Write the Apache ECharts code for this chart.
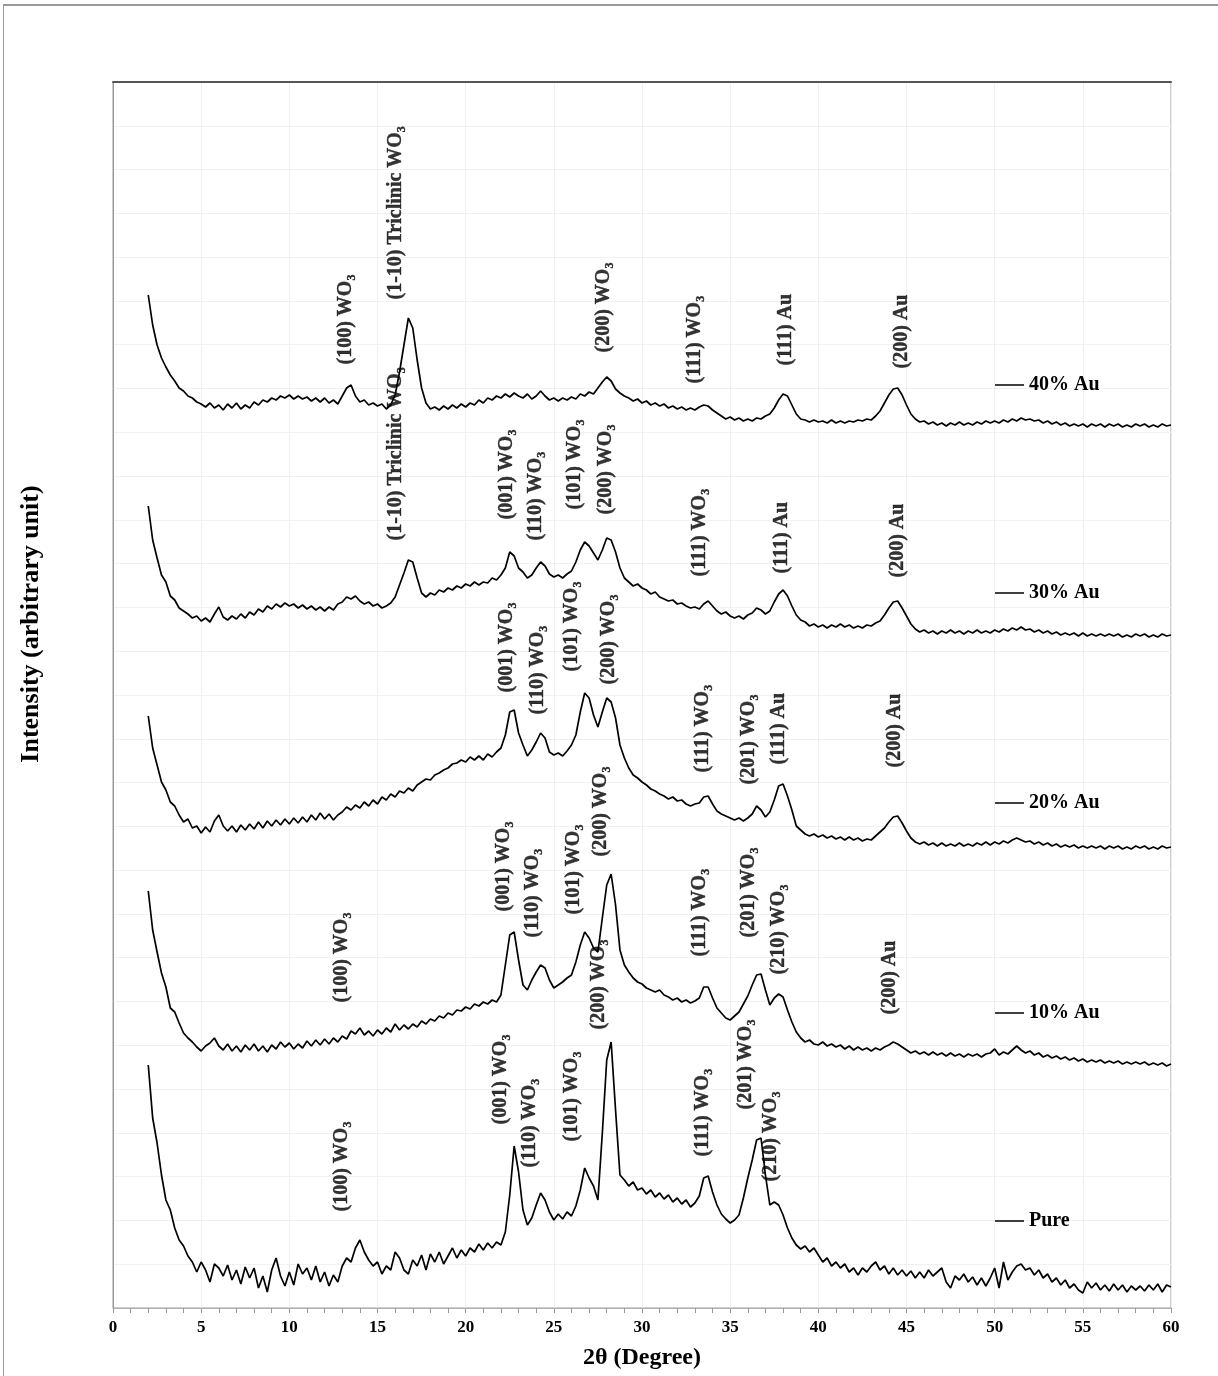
<!DOCTYPE html>
<html><head><meta charset="utf-8">
<script src="https://cdn.jsdelivr.net/npm/echarts@6/dist/echarts.min.js"></script>
<style>
html,body{margin:0;padding:0;background:#fff;overflow:hidden}
#c{width:1218px;height:1376px;position:absolute;left:0;top:0}
#frame{position:absolute;left:3px;top:4px;width:1400px;height:1500px;border-top:2px solid #9a9a9a;border-left:1px solid #9a9a9a;pointer-events:none}
</style>
</head><body><div id="c"></div><div id="frame"></div>
<script>
const twoTheta = [
2,2.25,2.5,2.75, 3,3.25,3.5,3.75, 4,4.25,4.5,4.75, 5,5.25,5.5,5.75, 6,6.25,6.5,6.75,
7,7.25,7.5,7.75, 8,8.25,8.5,8.75, 9,9.25,9.5,9.75, 10,10.25,10.5,10.75, 11,11.25,11.5,11.75,
12,12.25,12.5,12.75, 13,13.25,13.5,13.75, 14,14.25,14.5,14.75, 15,15.25,15.5,15.75, 16,16.25,16.5,16.75,
17,17.25,17.5,17.75, 18,18.25,18.5,18.75, 19,19.25,19.5,19.75, 20,20.25,20.5,20.75, 21,21.25,21.5,21.75,
22,22.25,22.5,22.75, 23,23.25,23.5,23.75, 24,24.25,24.5,24.75, 25,25.25,25.5,25.75, 26,26.25,26.5,26.75,
27,27.25,27.5,27.75, 28,28.25,28.5,28.75, 29,29.25,29.5,29.75, 30,30.25,30.5,30.75, 31,31.25,31.5,31.75,
32,32.25,32.5,32.75, 33,33.25,33.5,33.75, 34,34.25,34.5,34.75, 35,35.25,35.5,35.75, 36,36.25,36.5,36.75,
37,37.25,37.5,37.75, 38,38.25,38.5,38.75, 39,39.25,39.5,39.75, 40,40.25,40.5,40.75, 41,41.25,41.5,41.75,
42,42.25,42.5,42.75, 43,43.25,43.5,43.75, 44,44.25,44.5,44.75, 45,45.25,45.5,45.75, 46,46.25,46.5,46.75,
47,47.25,47.5,47.75, 48,48.25,48.5,48.75, 49,49.25,49.5,49.75, 50,50.25,50.5,50.75, 51,51.25,51.5,51.75,
52,52.25,52.5,52.75, 53,53.25,53.5,53.75, 54,54.25,54.5,54.75, 55,55.25,55.5,55.75, 56,56.25,56.5,56.75,
57,57.25,57.5,57.75, 58,58.25,58.5,58.75, 59,59.25,59.5,59.75, 60];

const sampleNames = ['40% Au', '30% Au', '20% Au', '10% Au', 'Pure'];

const int40 = [
1013,983,963,950, 941,933,927,920, 917,912,910,906, 904,901,905,900, 903,898,904,900,
905,899,903,900, 906,903,908,906, 910,908,912,910, 913,909,912,909, 911,907,910,906,
910,905,908,904, 912,920,923,912, 906,908,903,905, 902,904,899,903, 913,936,963,990,
980,948,920,905, 899,901,898,902, 899,903,900,904, 901,905,903,908, 905,910,908,912,
910,914,911,915, 912,910,914,909, 912,917,912,908, 910,907,910,908, 911,909,914,912,
916,914,920,926, 931,927,919,915, 912,910,907,909, 905,907,903,905, 902,904,900,902,
899,901,898,900, 898,901,903,902, 898,895,892,889, 891,888,890,887, 889,887,890,889,
892,894,900,908, 914,912,903,894, 889,888,886,888, 886,887,885,888, 885,887,885,887,
886,888,887,889, 888,892,897,905, 913,919,920,913, 903,894,889,886, 887,884,886,883,
885,882,885,883, 886,883,885,883, 886,884,887,885, 887,885,888,886, 889,887,890,888,
889,887,888,885, 887,884,886,883, 885,882,884,882, 884,881,884,882, 884,881,884,882,
884,881,883,881, 884,882,884,881, 883,881,884,882, 883];

const int30 = [
802,768,750,733, 726,712,708,700, 697,694,690,692, 687,690,686,694, 701,691,688,692,
689,694,690,696, 693,699,696,702, 699,704,701,705, 702,704,700,703, 699,702,698,701,
697,701,698,704, 706,711,709,712, 707,704,706,702, 704,700,702,705, 711,723,735,748,
746,730,715,711, 715,713,718,716, 720,718,722,720, 724,722,726,723, 726,725,730,728,
733,740,756,752, 740,736,730,733, 740,746,742,734, 731,733,730,734, 737,746,758,766,
762,755,748,758, 770,768,756,740, 730,726,722,724, 720,718,714,716, 711,709,707,708,
704,705,702,700, 701,699,704,707, 702,697,694,696, 692,690,692,689, 693,695,700,698,
694,697,706,714, 718,712,702,693, 688,686,682,684, 681,683,680,683, 681,684,681,683,
680,682,680,683, 682,685,687,693, 700,706,707,700, 692,684,679,676, 678,675,677,674,
677,675,678,675, 677,674,677,675, 678,675,677,675, 678,676,679,677, 680,678,681,678,
679,676,678,675, 677,674,676,673, 675,673,675,672, 675,672,674,672, 674,672,674,672,
674,671,673,671, 674,672,674,671, 673,671,674,672, 673];

const int20 = [
592,560,543,526, 518,506,502,493, 486,489,480,482, 475,481,476,487, 493,482,477,482,
476,483,478,484, 479,486,480,487, 482,488,483,489, 484,490,485,491, 486,493,488,495,
489,494,488,493, 496,501,498,503, 500,506,502,508, 504,511,508,514, 511,517,515,520,
517,523,526,529, 528,533,535,538, 540,544,545,548, 546,551,548,552, 548,554,551,556,
560,573,596,598, 575,563,552,558, 566,575,570,556, 553,555,552,557, 563,573,596,615,
610,593,581,596, 610,606,590,563, 550,540,533,530, 526,523,519,517, 514,512,509,511,
507,508,504,502, 504,505,511,512, 504,497,494,492, 490,488,490,487, 490,494,502,498,
491,496,508,522, 524,512,498,482, 478,474,472,474, 471,473,470,472, 469,471,468,471,
468,470,467,469, 468,472,476,480, 486,491,492,485, 477,470,466,464, 466,463,465,462,
465,462,464,462, 465,462,464,462, 465,463,466,463, 466,464,467,465, 468,470,468,466,
467,464,466,463, 465,462,464,461, 463,461,463,460, 462,460,462,460, 462,459,462,460,
462,459,461,459, 462,460,462,459, 461,459,462,460, 461];

const int10 = [
417,378,356,335, 321,300,296,285, 275,270,266,261, 257,262,265,270, 262,258,264,257,
262,256,263,258, 264,257,262,256, 263,259,266,261, 265,259,264,260, 267,262,268,263,
269,264,270,266, 272,269,277,274, 280,273,277,272, 278,274,280,276, 284,278,283,279,
284,281,287,284, 289,287,292,290, 295,293,298,297, 301,299,304,302, 306,304,308,306,
313,343,373,376, 348,323,318,328, 336,343,340,328, 320,323,326,330, 333,346,363,376,
370,360,356,390, 423,434,403,358, 343,336,330,326, 324,320,318,316, 318,313,311,308,
310,306,308,305, 307,310,321,321, 310,300,295,290, 288,292,296,304, 312,323,333,334,
318,303,310,314, 311,298,286,276, 270,266,268,264, 263,266,262,264, 261,263,259,262,
258,261,258,260, 257,260,258,261, 263,266,264,261, 258,255,257,254, 256,253,256,253,
255,252,255,252, 254,251,254,252, 254,251,254,255, 259,253,256,254, 258,262,258,255,
257,253,255,251, 253,250,252,249, 251,248,250,247, 249,246,248,246, 248,245,247,245,
247,244,246,244, 246,244,246,243, 245,243,245,242, 244];

const intPure = [
243,190,165,133, 108,98,80,68, 62,52,46,36, 46,38,26,44, 40,32,43,28,
38,24,41,30, 40,20,32,16, 38,50,32,22, 36,23,44,34, 40,28,42,26,
36,22,33,26, 42,50,46,60, 68,56,48,42, 46,34,42,38, 56,50,38,34,
48,42,53,38, 54,46,56,44, 52,60,50,58, 52,60,56,64, 58,65,60,66,
63,76,113,162, 136,98,83,90, 103,115,108,96, 88,94,89,96, 92,102,118,140,
130,122,108,175, 248,266,198,133, 128,122,126,118, 120,114,118,111, 115,109,113,106,
110,104,108,101, 105,112,130,132, 116,103,94,89, 85,88,93,110, 130,148,168,170,
133,103,106,103, 93,80,70,63, 59,62,56,60, 53,46,50,42, 46,40,44,36,
40,33,40,36, 42,46,38,42, 34,40,33,38, 32,37,30,36, 30,38,32,36,
40,26,20,32, 28,34,26,31, 23,30,22,30, 40,20,46,28, 36,42,44,38,
40,33,38,30, 34,26,30,23, 28,20,24,18, 15,26,20,25, 18,23,17,24,
18,23,16,22, 18,22,17,23, 18,24,16,23, 21];

// peak annotations: [label, 2θ of label, intensity where label text starts]
const peaks40 = [
  ['(100) WO₃', 13.25, 943], ['(1-10) Triclinic WO₃', 16.09, 1008], ['(200) WO₃', 27.89, 955],
  ['(111) WO₃', 33.05, 924], ['(111) Au', 38.21, 942], ['(200) Au', 44.74, 939]];
const peaks30 = [
  ['(1-10) Triclinic WO₃', 16.09, 767], ['(001) WO₃', 22.38, 788], ['(110) WO₃', 24.03, 767],
  ['(101) WO₃', 26.24, 798], ['(200) WO₃', 28.0, 793], ['(111) WO₃', 33.28, 731],
  ['(111) Au', 37.93, 734], ['(200) Au', 44.51, 730]];
const peaks20 = [
  ['(001) WO₃', 22.38, 615], ['(110) WO₃', 24.14, 593], ['(101) WO₃', 26.07, 636],
  ['(200) WO₃', 28.17, 623], ['(111) WO₃', 33.45, 535], ['(201) WO₃', 36.11, 523],
  ['(111) Au', 37.81, 543], ['(200) Au', 44.34, 540]];
const peaks10 = [
  ['(100) WO₃', 13.02, 305], ['(001) WO₃', 22.21, 396], ['(110) WO₃', 23.86, 370],
  ['(101) WO₃', 26.18, 393], ['(200) WO₃', 27.72, 451], ['(111) WO₃', 33.28, 351],
  ['(201) WO₃', 36.11, 370], ['(210) WO₃', 37.81, 333], ['(200) Au', 44.06, 293]];
const peaksPure = [
  ['(100) WO₃', 13.02, 96], ['(001) WO₃', 22.04, 183], ['(110) WO₃', 23.69, 140],
  ['(101) WO₃', 26.07, 166], ['(200) WO₃', 27.60, 278], ['(111) WO₃', 33.45, 151],
  ['(201) WO₃', 35.89, 198], ['(210) WO₃', 37.36, 126]];

const FONT = "'Times New Roman','Liberation Serif','DejaVu Serif',serif";
const seriesValues = [int40, int30, int20, int10, intPure];
const allPeaks = [].concat(peaks40, peaks30, peaks20, peaks10, peaksPure);
const legendCenterY = [385, 593, 803, 1013, 1221];

const chart = echarts.init(document.getElementById('c'), null, {renderer: 'canvas'});

const lineSeries = sampleNames.map((n, i) => ({
  name: n, type: 'line',
  data: twoTheta.map((x, j) => [x, seriesValues[i][j]]),
  symbol: 'none', showSymbol: false, smooth: false,
  lineStyle: {color: '#000', width: 1.7},
  itemStyle: {color: '#000'},
  silent: true, animation: false, z: 2
}));

const annotationSeries = {
  name: 'annotations', type: 'scatter',
  data: allPeaks.map(p => ({name: p[0], value: [p[1], p[2]]})),
  symbolSize: 1, itemStyle: {color: 'rgba(0,0,0,0)'},
  silent: true, animation: false, z: 3,
  label: {
    show: true, position: [0, 0], rotate: 90, align: 'left', verticalAlign: 'middle',
    formatter: '{b}', fontFamily: FONT, fontWeight: 'bold', fontSize: 20, color: '#000',
    textBorderColor: '#000', textBorderWidth: 0.4
  },
  labelLayout: {hideOverlap: false}
};

const option = {
  backgroundColor: '#fff',
  animation: false,
  grid: {left: 113, right: 47, top: 82, bottom: 68, show: true, borderColor: '#999', borderWidth: 1, backgroundColor: 'transparent'},
  legend: sampleNames.map((n, i) => ({
    data: [n], left: 995, top: legendCenterY[i] - 10, padding: 0,
    icon: 'rect', itemWidth: 29, itemHeight: 1.5, itemGap: 0, selectedMode: false,
    textStyle: {fontFamily: FONT, fontWeight: 'bold', fontSize: 20, color: '#000', lineHeight: 20}
  })),
  xAxis: [{
    type: 'value', min: 0, max: 60, interval: 5, position: 'bottom',
    name: '2θ (Degree)', nameLocation: 'middle', nameGap: 38,
    nameTextStyle: {fontFamily: FONT, fontWeight: 'bold', fontSize: 24, color: '#000'},
    axisLine: {show: true, onZero: false, lineStyle: {color: '#b0b0b0', width: 1}},
    axisTick: {show: true, length: 5, lineStyle: {color: '#999'}},
    minorTick: {show: true, splitNumber: 5, length: 5, lineStyle: {color: '#999'}},
    axisLabel: {fontFamily: FONT, fontWeight: 'bold', fontSize: 17, color: '#000', margin: 11},
    splitLine: {show: true, lineStyle: {color: '#efefef'}}
  }, {
    type: 'value', min: 0, max: 60, position: 'top',
    axisLine: {show: true, onZero: false, lineStyle: {color: '#555', width: 2}},
    axisTick: {show: false}, axisLabel: {show: false}, splitLine: {show: false}
  }],
  yAxis: {
    type: 'value', min: 0, max: 1226, interval: 1226 / 28,
    axisLabel: {show: false}, axisTick: {show: false},
    axisLine: {show: true, onZero: false, lineStyle: {color: '#999'}},
    splitLine: {show: true, lineStyle: {color: '#f1f1f1'}}
  },
  graphic: [{
    type: 'text', x: 31, y: 624, rotation: Math.PI / 2, silent: true,
    style: {text: 'Intensity (arbitrary unit)', font: 'bold 26px ' + FONT, fill: '#000', align: 'center', verticalAlign: 'middle'}
  }],
  series: lineSeries.concat([annotationSeries])
};
chart.setOption(option);
</script>
</body></html>
